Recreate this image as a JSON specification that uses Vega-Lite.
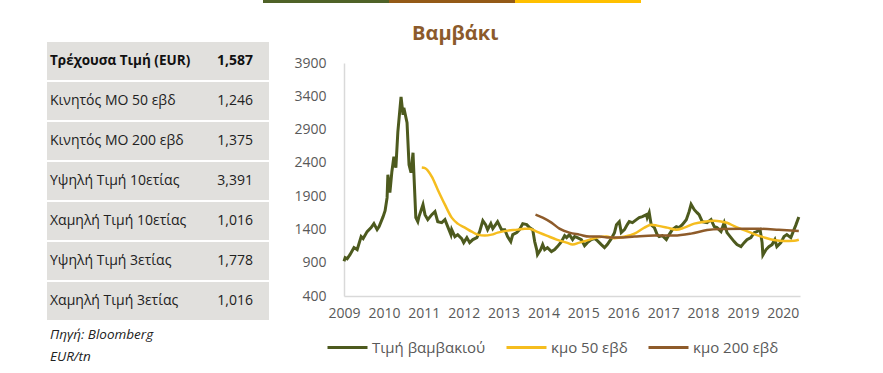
{
  "$schema": "https://vega.github.io/schema/vega-lite/v6.json",
  "background": "white",
  "padding": {"left": 47, "top": 0, "right": 0, "bottom": 0},
  "bounds": "flush",
  "spacing": 60,
  "config": {"view": {"stroke": null}, "font": "Open Sans"},
  "datasets": {
    "price": [
      {"d":2009.00,"v":922},{"d":2009.03,"v":977},{"d":2009.08,"v":960},{"d":2009.15,"v":1020},{"d":2009.25,"v":1127},{"d":2009.33,"v":1097},{"d":2009.43,"v":1292},{"d":2009.48,"v":1262},{"d":2009.58,"v":1367},{"d":2009.68,"v":1427},{"d":2009.75,"v":1487},{"d":2009.83,"v":1397},{"d":2009.88,"v":1442},{"d":2009.98,"v":1592},
      {"d":2010.03,"v":1682},{"d":2010.08,"v":1877},{"d":2010.10,"v":2222},{"d":2010.15,"v":1952},{"d":2010.20,"v":2267},{"d":2010.25,"v":2492},{"d":2010.30,"v":2327},{"d":2010.35,"v":2867},{"d":2010.40,"v":3197},{"d":2010.43,"v":3391},{"d":2010.48,"v":3122},{"d":2010.50,"v":3227},{"d":2010.58,"v":3002},{"d":2010.63,"v":2372},{"d":2010.68,"v":2252},{"d":2010.73,"v":2552},{"d":2010.75,"v":2267},{"d":2010.80,"v":1577},{"d":2010.85,"v":1517},{"d":2010.88,"v":1592},{"d":2010.98,"v":1772},
      {"d":2011.03,"v":1622},{"d":2011.10,"v":1547},{"d":2011.20,"v":1622},{"d":2011.28,"v":1667},{"d":2011.35,"v":1517},{"d":2011.45,"v":1502},{"d":2011.53,"v":1547},{"d":2011.60,"v":1442},{"d":2011.68,"v":1322},{"d":2011.70,"v":1397},{"d":2011.78,"v":1292},{"d":2011.85,"v":1322},{"d":2011.95,"v":1262},
      {"d":2012.00,"v":1202},{"d":2012.08,"v":1277},{"d":2012.15,"v":1202},{"d":2012.23,"v":1247},{"d":2012.33,"v":1277},{"d":2012.40,"v":1367},{"d":2012.48,"v":1532},{"d":2012.55,"v":1472},{"d":2012.60,"v":1397},{"d":2012.68,"v":1487},{"d":2012.73,"v":1412},{"d":2012.80,"v":1472},{"d":2012.85,"v":1517},{"d":2012.95,"v":1397},
      {"d":2013.03,"v":1397},{"d":2013.10,"v":1292},{"d":2013.18,"v":1217},{"d":2013.23,"v":1322},{"d":2013.33,"v":1352},{"d":2013.40,"v":1397},{"d":2013.48,"v":1487},{"d":2013.58,"v":1472},{"d":2013.65,"v":1427},{"d":2013.73,"v":1397},{"d":2013.78,"v":1217},{"d":2013.83,"v":1097},{"d":2013.85,"v":1022},{"d":2013.93,"v":1097},{"d":2013.98,"v":1172},
      {"d":2014.03,"v":1097},{"d":2014.10,"v":1127},{"d":2014.20,"v":1067},{"d":2014.28,"v":1097},{"d":2014.35,"v":1142},{"d":2014.45,"v":1217},{"d":2014.53,"v":1307},{"d":2014.58,"v":1277},{"d":2014.65,"v":1322},{"d":2014.73,"v":1247},{"d":2014.78,"v":1292},{"d":2014.85,"v":1277},{"d":2014.95,"v":1247},
      {"d":2015.03,"v":1157},{"d":2015.10,"v":1202},{"d":2015.20,"v":1247},{"d":2015.28,"v":1262},{"d":2015.35,"v":1232},{"d":2015.45,"v":1172},{"d":2015.53,"v":1127},{"d":2015.60,"v":1172},{"d":2015.70,"v":1262},{"d":2015.78,"v":1352},{"d":2015.83,"v":1472},{"d":2015.90,"v":1517},{"d":2015.95,"v":1352},
      {"d":2016.03,"v":1397},{"d":2016.10,"v":1472},{"d":2016.15,"v":1517},{"d":2016.23,"v":1502},{"d":2016.33,"v":1547},{"d":2016.40,"v":1577},{"d":2016.48,"v":1592},{"d":2016.58,"v":1622},{"d":2016.60,"v":1577},{"d":2016.65,"v":1652},{"d":2016.70,"v":1472},{"d":2016.78,"v":1427},{"d":2016.85,"v":1322},{"d":2016.90,"v":1292},{"d":2016.98,"v":1307},
      {"d":2017.08,"v":1247},{"d":2017.15,"v":1322},{"d":2017.23,"v":1397},{"d":2017.33,"v":1442},{"d":2017.40,"v":1427},{"d":2017.48,"v":1472},{"d":2017.58,"v":1547},{"d":2017.65,"v":1667},{"d":2017.70,"v":1778},{"d":2017.78,"v":1697},{"d":2017.85,"v":1652},{"d":2017.90,"v":1622},{"d":2017.98,"v":1517},
      {"d":2018.10,"v":1502},{"d":2018.20,"v":1547},{"d":2018.28,"v":1442},{"d":2018.35,"v":1427},{"d":2018.45,"v":1367},{"d":2018.53,"v":1502},{"d":2018.60,"v":1352},{"d":2018.70,"v":1277},{"d":2018.78,"v":1217},{"d":2018.85,"v":1172},{"d":2018.95,"v":1142},
      {"d":2019.03,"v":1202},{"d":2019.10,"v":1247},{"d":2019.20,"v":1277},{"d":2019.28,"v":1352},{"d":2019.35,"v":1367},{"d":2019.43,"v":1397},{"d":2019.48,"v":1202},{"d":2019.50,"v":1016},{"d":2019.58,"v":1097},{"d":2019.65,"v":1142},{"d":2019.73,"v":1172},{"d":2019.80,"v":1247},{"d":2019.85,"v":1142},{"d":2019.95,"v":1202},
      {"d":2020.03,"v":1292},{"d":2020.10,"v":1322},{"d":2020.20,"v":1277},{"d":2020.28,"v":1397},{"d":2020.33,"v":1472},{"d":2020.40,"v":1587}
    ],
    "ma50": [
      {"d":2010.95,"v":2330},{"d":2011.03,"v":2320},{"d":2011.20,"v":2192},{"d":2011.35,"v":1997},{"d":2011.53,"v":1772},{"d":2011.70,"v":1577},{"d":2011.85,"v":1487},{"d":2012.03,"v":1427},{"d":2012.20,"v":1367},{"d":2012.35,"v":1322},{"d":2012.53,"v":1307},{"d":2012.70,"v":1322},{"d":2012.85,"v":1352},{"d":2013.10,"v":1382},{"d":2013.35,"v":1397},{"d":2013.53,"v":1412},{"d":2013.65,"v":1412},{"d":2013.83,"v":1367},{"d":2014.08,"v":1307},{"d":2014.33,"v":1247},{"d":2014.58,"v":1202},{"d":2014.73,"v":1172},{"d":2014.90,"v":1202},{"d":2015.08,"v":1232},{"d":2015.33,"v":1277},{"d":2015.58,"v":1292},{"d":2015.78,"v":1268},{"d":2016.03,"v":1292},{"d":2016.28,"v":1337},{"d":2016.53,"v":1427},{"d":2016.70,"v":1472},{"d":2016.85,"v":1457},{"d":2017.10,"v":1427},{"d":2017.33,"v":1397},{"d":2017.53,"v":1427},{"d":2017.78,"v":1487},{"d":2018.03,"v":1517},{"d":2018.28,"v":1530},{"d":2018.45,"v":1520},{"d":2018.60,"v":1500},{"d":2018.78,"v":1450},{"d":2019.03,"v":1390},{"d":2019.28,"v":1330},{"d":2019.53,"v":1280},{"d":2019.78,"v":1240},{"d":2020.03,"v":1225},{"d":2020.28,"v":1230},{"d":2020.40,"v":1246}
    ],
    "ma200": [
      {"d":2013.80,"v":1622},{"d":2013.98,"v":1577},{"d":2014.20,"v":1502},{"d":2014.40,"v":1412},{"d":2014.65,"v":1352},{"d":2014.90,"v":1322},{"d":2015.15,"v":1292},{"d":2015.40,"v":1292},{"d":2015.65,"v":1277},{"d":2015.90,"v":1277},{"d":2016.28,"v":1292},{"d":2016.78,"v":1307},{"d":2017.28,"v":1307},{"d":2017.70,"v":1337},{"d":2018.10,"v":1390},{"d":2018.45,"v":1405},{"d":2019.03,"v":1410},{"d":2019.40,"v":1410},{"d":2019.90,"v":1395},{"d":2020.40,"v":1375}
    ],
    "table": [
      {"r":1,"label":"Τρέχουσα Τιμή (EUR)","val":1587},
      {"r":2,"label":"Κινητός ΜΟ 50 εβδ","val":1246},
      {"r":3,"label":"Κινητός ΜΟ 200 εβδ","val":1375},
      {"r":4,"label":"Υψηλή Τιμή 10ετίας","val":3391},
      {"r":5,"label":"Χαμηλή Τιμή 10ετίας","val":1016},
      {"r":6,"label":"Υψηλή Τιμή 3ετίας","val":1778},
      {"r":7,"label":"Χαμηλή Τιμή 3ετίας","val":1016}
    ],
    "bar": [{"k":"a"},{"k":"b"},{"k":"c"}]
  },
  "vconcat": [
    {
      "width": 594,
      "height": 3,
      "data": {"name": "bar"},
      "mark": {"type": "rect"},
      "encoding": {
        "x": {"field": "k", "type": "nominal", "scale": {"range": [216, 594], "paddingInner": 0, "paddingOuter": 0}, "axis": null},
        "fill": {"field": "k", "type": "nominal", "scale": {"domain": ["a","b","c"], "range": ["#4F6228", "#945A17", "#FFC000"]}, "legend": null}
      }
    },
    {
      "bounds": "flush",
      "spacing": 75,
      "hconcat": [
        {
          "width": 222,
          "height": 257,
          "data": {"name": "table"},
          "title": {"text": ["Πηγή: Bloomberg", "EUR/tn"], "orient": "bottom", "anchor": "start", "frame": "group", "fontStyle": "italic", "fontWeight": "normal", "fontSize": 13.5, "lineHeight": 22, "offset": 8, "dx": 3, "color": "#222222", "font": "Open Sans"},
          "layer": [
            {
              "mark": {"type": "rect", "color": "#E1E0DD"},
              "encoding": {
                "y": {"field": "r", "type": "ordinal", "scale": {"range": [-21, 257], "paddingInner": 0.05, "paddingOuter": 0}, "axis": null}
              }
            },
            {
              "transform": [{"filter": "datum.r == 1"}],
              "mark": {"type": "text", "align": "left", "baseline": "middle", "dx": 3, "fontSize": 13.5, "fontWeight": "bold", "color": "#111111"},
              "encoding": {
                "y": {"field": "r", "type": "ordinal"},
                "x": {"value": 0},
                "text": {"field": "label"}
              }
            },
            {
              "transform": [{"filter": "datum.r == 1"}],
              "mark": {"type": "text", "align": "right", "baseline": "middle", "dx": -16, "fontSize": 14, "fontWeight": "bold", "color": "#111111"},
              "encoding": {
                "y": {"field": "r", "type": "ordinal"},
                "x": {"value": "width"},
                "text": {"field": "val", "type": "quantitative", "format": ","}
              }
            },
            {
              "transform": [{"filter": "datum.r != 1"}],
              "mark": {"type": "text", "align": "left", "baseline": "middle", "dx": 3, "fontSize": 14, "color": "#222222"},
              "encoding": {
                "y": {"field": "r", "type": "ordinal"},
                "x": {"value": 0},
                "text": {"field": "label"}
              }
            },
            {
              "transform": [{"filter": "datum.r != 1"}],
              "mark": {"type": "text", "align": "right", "baseline": "middle", "dx": -16, "fontSize": 14, "color": "#222222"},
              "encoding": {
                "y": {"field": "r", "type": "ordinal"},
                "x": {"value": "width"},
                "text": {"field": "val", "type": "quantitative", "format": ","}
              }
            }
          ]
        },
        {
          "width": 456,
          "height": 233,
          "title": {"text": "Βαμβάκι", "anchor": "start", "frame": "group", "dx": 68, "offset": 12, "fontSize": 20, "fontWeight": "bold", "color": "#8B5A2B", "font": "Open Sans"},
          "encoding": {
            "x": {"field": "d", "type": "quantitative", "scale": {"domain": [2009, 2020.43], "nice": false, "zero": false},
              "axis": {"values": [2009,2010,2011,2012,2013,2014,2015,2016,2017,2018,2019,2020], "format": "d", "title": null, "ticks": false, "grid": false, "domainColor": "#D9D9D9", "domainWidth": 1.5, "labelColor": "#595959", "labelFontSize": 14, "labelPadding": 10, "labelFlush": false, "labelOverlap": false}},
            "y": {"field": "v", "type": "quantitative", "scale": {"domain": [400, 3900], "nice": false, "zero": false},
              "axis": {"values": [400,900,1400,1900,2400,2900,3400,3900], "format": "d", "title": null, "ticks": false, "grid": false, "domainColor": "#D9D9D9", "domainWidth": 1.5, "labelColor": "#595959", "labelFontSize": 14, "labelPadding": 18}},
            "color": {"type": "nominal", "scale": {"domain": ["Τιμή βαμβακιού", "κμο 50 εβδ", "κμο 200 εβδ"], "range": ["#4D5A1E", "#F5BD1F", "#8E5B2A"]},
              "legend": {"orient": "none", "legendX": 279, "legendY": 326, "direction": "horizontal", "title": null, "symbolType": "stroke", "symbolSize": 1600, "symbolStrokeWidth": 3, "labelFontSize": 15, "labelColor": "#595959", "columnPadding": 14, "labelOffset": 3, "gridAlign": "none"}}
          },
          "layer": [
            {"data": {"name": "price"}, "mark": {"type": "line", "strokeWidth": 3}, "encoding": {"color": {"datum": "Τιμή βαμβακιού"}}},
            {"data": {"name": "ma50"}, "mark": {"type": "line", "strokeWidth": 2.5, "interpolate": "monotone"}, "encoding": {"color": {"datum": "κμο 50 εβδ"}}},
            {"data": {"name": "ma200"}, "mark": {"type": "line", "strokeWidth": 2.5, "interpolate": "monotone"}, "encoding": {"color": {"datum": "κμο 200 εβδ"}}}
          ]
        }
      ]
    }
  ]
}
